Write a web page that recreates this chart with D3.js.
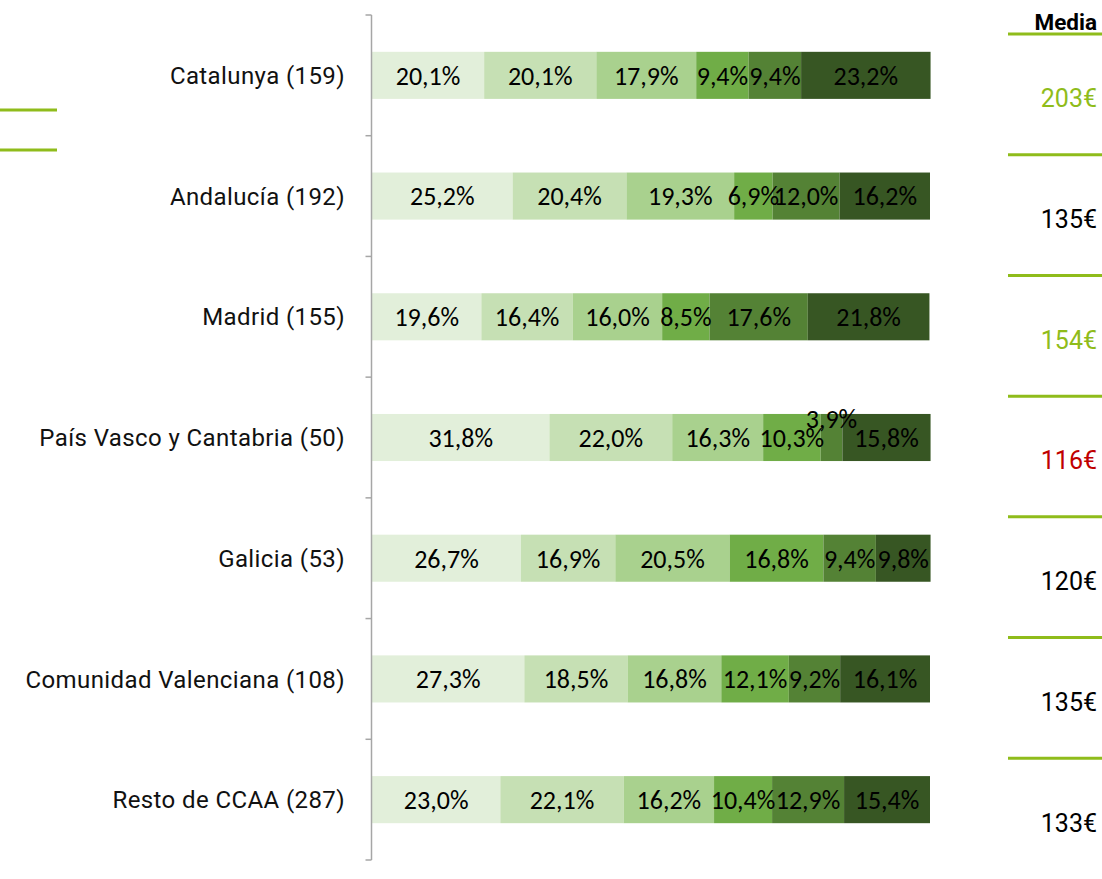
<!DOCTYPE html>
<html><head><meta charset="utf-8">
<script src="https://cdn.jsdelivr.net/npm/d3@7/dist/d3.min.js"></script>
<style>body{margin:0;background:#fff}svg{display:block}</style>
</head><body>
<svg id="c" width="1102" height="879"></svg>
<script>
const categories = ["Catalunya (159)","Andalucía (192)","Madrid (155)","País Vasco y Cantabria (50)","Galicia (53)","Comunidad Valenciana (108)","Resto de CCAA (287)"];
const s1 = [20.1,25.2,19.6,31.8,26.7,27.3,23.0];
const s2 = [20.1,20.4,16.4,22.0,16.9,18.5,22.1];
const s3 = [17.9,19.3,16.0,16.3,20.5,16.8,16.2];
const s4 = [9.4,6.9,8.5,10.3,16.8,12.1,10.4];
const s5 = [9.4,12.0,17.6,3.9,9.4,9.2,12.9];
const s6 = [23.2,16.2,21.8,15.8,9.8,16.1,15.4];
const medias = ["203€","135€","154€","116€","120€","135€","133€"];
const mediaColors = ["#8fbc1b","#000000","#8fbc1b","#c00000","#000000","#000000","#000000"];
const colors = ["#e2efda","#c6e0b4","#a9d18e","#70ad47","#548235","#375623"];

const series = [s1,s2,s3,s4,s5,s6];
const rows = categories.map((c,i)=>{const o={cat:c}; series.forEach((s,k)=>o["k"+k]=s[i]); return o;});
const keys = series.map((s,k)=>"k"+k);
const stacked = d3.stack().keys(keys)(rows);

const svg = d3.select("#c");
const x = d3.scaleLinear().domain([0,100]).range([372,930]);
const y = d3.scaleBand().domain(categories).range([15,860]).paddingInner(0.61).paddingOuter(0.305);
const yb = d3.scaleBand().domain(categories).range([15,860]);

const rectLayer = svg.append("g");
const textLayer = svg.append("g");
stacked.forEach((layer,k)=>{
  rectLayer.append("g").selectAll("rect").data(layer).join("rect")
    .attr("x",d=>x(d[0])).attr("y",d=>y(d.data.cat))
    .attr("width",d=>x(d[1])-x(d[0])).attr("height",y.bandwidth())
    .attr("fill",colors[k]);
  textLayer.append("g").selectAll("text").data(layer).join("text")
    .attr("x",d=>(x(d[0])+x(d[1]))/2)
    .attr("y",d=>y(d.data.cat)+y.bandwidth()/2 + ((x(d[1])-x(d[0]))<25 ? -19 : 0))
    .attr("dy","0.36em").attr("text-anchor","middle")
    .attr("font-family","Carlito, Calibri, 'Liberation Sans', sans-serif").attr("font-size",26)
    .attr("fill","#000")
    .text(d=>d3.format(".1f")(d[1]-d[0]).replace(".",",")+"%");
});

// axis
const ag = svg.append("g").attr("transform","translate(371.5,0)");
ag.append("line").attr("x1",0).attr("x2",0).attr("y1",15).attr("y2",860).attr("stroke","#a6a6a6").attr("stroke-width",1.5);
const tickYs = categories.map(c=>yb(c)).concat([860]);
ag.selectAll("line.t").data(tickYs).join("line").attr("class","t")
  .attr("x1",-6).attr("x2",0).attr("y1",d=>d).attr("y2",d=>d).attr("stroke","#a6a6a6").attr("stroke-width",1.5);

svg.append("g").selectAll("text").data(categories).join("text")
  .attr("x",345).attr("y",d=>yb(d)+yb.bandwidth()/2).attr("dy","0.36em")
  .attr("text-anchor","end").attr("font-family","Roboto, sans-serif").attr("font-size",24)
  .attr("letter-spacing",0.4)
  .attr("fill","#111").text(d=>d);

// right media column
svg.append("text").attr("x",1097).attr("y",30).attr("text-anchor","end")
  .attr("font-family","Roboto, sans-serif").attr("font-weight","bold").attr("font-size",22.5).attr("fill","#000").text("Media");
const rg = svg.append("g");
rg.selectAll("line").data(categories).join("line")
  .attr("x1",1008).attr("x2",1102).attr("y1",d=>yb(d)+19).attr("y2",d=>yb(d)+19)
  .attr("stroke","#8fbc1b").attr("stroke-width",3);
rg.selectAll("text").data(categories).join("text")
  .attr("x",1097).attr("y",d=>yb(d)+yb.bandwidth()*0.69).attr("dy","0.36em").attr("text-anchor","end")
  .attr("font-family","Roboto, sans-serif").attr("font-size",25)
  .attr("fill",(d,i)=>mediaColors[i]).text((d,i)=>medias[i]);

// left decorative lines
svg.append("g").selectAll("line").data([110,150]).join("line")
  .attr("x1",0).attr("x2",57).attr("y1",d=>d).attr("y2",d=>d).attr("stroke","#8fbc1b").attr("stroke-width",3);
</script>
</body></html>
